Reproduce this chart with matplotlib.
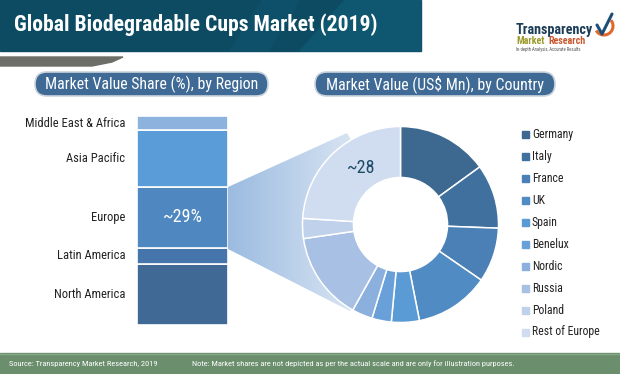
import numpy as np
import matplotlib
matplotlib.use("Agg")
import matplotlib.pyplot as plt
from matplotlib.patches import Rectangle, FancyBboxPatch, Polygon, Arc, Circle
from matplotlib import font_manager as fm

# ---------------- data ----------------
regions = ["North America", "Latin America", "Europe", "Asia Pacific", "Middle East & Africa"]
region_share = [29, 8, 29, 27, 7]
region_colors = ["#406a95", "#4575ab", "#4f88c1", "#5a9cd7", "#8db2de"]

countries = ["Germany", "Italy", "France", "UK", "Spain", "Benelux", "Nordic",
             "Russia", "Poland", "Rest of Europe"]
country_value = [15.0, 10.6, 9.0, 12.3, 4.6, 3.2, 3.4, 14.6, 3.3, 24.0]
country_colors = ["#3d6890", "#40709e", "#4a80b6", "#508bc4", "#5a9ad5", "#6aa0da",
                  "#8cb0de", "#a7c0e4", "#c0d1ec", "#d0dcef"]

title = "Global Biodegradable Cups Market (2019)"
left_header = "Market Value Share (%), by Region"
right_header = "Market Value (US$ Mn), by Country"
europe_label = "~29%"
rest_label = "~28"
source = "Source: Transparency Market Research, 2019"
note = "Note: Market shares are not depicted as per the actual scale and are only for illustration purposes."

# ---------------- fonts ----------------
avail = {f.name for f in fm.fontManager.ttflist}
def pick(*names):
    for n in names:
        if n in avail:
            return n
    return "DejaVu Sans"
NARROW = pick("Liberation Sans Narrow", "DejaVu Sans Condensed", "Roboto Condensed", "Liberation Sans")

W, H = 620, 374
fig = plt.figure(figsize=(W / 100, H / 100), dpi=100)
fig.patch.set_facecolor("white")

def px_axes(x0, y0, x1, y1):
    return fig.add_axes([x0 / W, 1 - y1 / H, (x1 - x0) / W, (y1 - y0) / H])

bg = fig.add_axes([0, 0, 1, 1])
bg.set_xlim(0, W)
bg.set_ylim(H, 0)
bg.axis("off")

# title banner
bg.add_patch(Rectangle((0, 0), 421, 51, color="#0d4b63", zorder=1))
bg.add_patch(Polygon([(300, 51), (345, 0), (421, 0), (421, 51)], closed=True,
                     color="#0f5670", zorder=1.1))
bg.add_patch(Polygon([(230, 51), (262, 0), (300, 0), (268, 51)], closed=True,
                     color="#0e5069", zorder=1.1))
bg.text(14, 25, title, color="white", fontsize=15.6, fontweight="bold",
        family=NARROW, va="center", ha="left", zorder=3)

# grey wedge under banner
bg.add_patch(Polygon([(0, 57), (123, 57), (112, 62), (92, 66), (0, 66)], closed=True,
                     color="#6e6e68", zorder=1))

# logo
bg.text(516, 30, "Transparency", color="#1b3d57", fontsize=10.2, fontweight="bold",
        family=NARROW, va="center", ha="left", zorder=3)
bg.text(516, 41, "Market", color="#9c9a2c", fontsize=7.2, fontweight="bold",
        family=NARROW, va="center", ha="left", zorder=3)
bg.text(548, 41, "Research", color="#c9562c", fontsize=7.2, fontweight="bold",
        family=NARROW, va="center", ha="left", zorder=3)
bg.text(516, 49, "In-depth Analysis, Accurate Results", color="#555555", fontsize=3.3,
        family=NARROW, va="center", ha="left", zorder=3)
bg.add_patch(Arc((604, 26), 18, 18, theta1=-40, theta2=150, color="#e2672b", lw=2.2, zorder=3))
bg.plot([597, 602, 612], [25, 34, 14], color="#1f4e79", lw=2.2, zorder=4,
        solid_capstyle="round")

# header pills
for (x0, x1, txt) in [(35, 268, left_header), (315, 555, right_header)]:
    bg.add_patch(FancyBboxPatch((x0, 72), x1 - x0, 24,
                                boxstyle="round,pad=0,rounding_size=12",
                                fc="#3e6a95", ec="#c9d3dd", lw=1.2, zorder=2))
    bg.text((x0 + x1) / 2, 84.5, txt, color="white", fontsize=11.4, family=NARROW,
            ha="center", va="center", zorder=3)

# funnel gradient
poly = Polygon([(228, 187), (347, 133), (401, 224), (350, 311), (228, 249)],
               closed=True, transform=bg.transData, fc="none", ec="none")
bg.add_patch(poly)
c0 = np.array([0x9b, 0xbb, 0xe0]) / 255
c1 = np.array([0xf0, 0xf4, 0xfa]) / 255
t = np.linspace(0, 1, 256)[None, :, None]
grad = c0 + (c1 - c0) * t
im = bg.imshow(grad, extent=(228, 401, 311, 133), aspect="auto", zorder=1.5,
               interpolation="bilinear")
im.set_clip_path(poly)
bg.set_xlim(0, W)
bg.set_ylim(H, 0)

# footer
bg.add_patch(Rectangle((0, 353), W, 21, color="#6b8f6d", zorder=1))
bg.plot([0, W], [353.5, 353.5], color="#86a688", lw=1, zorder=1.2)
bg.text(9, 364, source, color="white", fontsize=6.0, family=NARROW,
        ha="left", va="center", zorder=3)
bg.text(192, 364, note, color="white", fontsize=6.0, family=NARROW,
        ha="left", va="center", zorder=3)

# ---------------- stacked bar ----------------
axb = px_axes(137, 115.7, 228, 325)
bottom = 0
for name, val, col in zip(regions, region_share, region_colors):
    axb.bar(0, val, bottom=bottom, width=1.0, color=col, edgecolor="white", linewidth=1.2)
    axb.text(-0.63, bottom + val / 2, name, ha="right", va="center", fontsize=9.0,
             family=NARROW, color="#222222", clip_on=False)
    if name == "Europe":
        axb.text(0, bottom + val / 2, europe_label, ha="center", va="center",
                 fontsize=13, family=NARROW, color="white")
    bottom += val
axb.set_xlim(-0.5, 0.5)
axb.set_ylim(0, sum(region_share))
axb.axis("off")

# ---------------- donut ----------------
cx, cy, R = 400.5, 224.5, 98
axd = px_axes(cx - R, cy - R, cx + R, cy + R)
axd.add_patch(Circle((0, 0), 0.49, color="white", zorder=0))
wedges, _ = axd.pie(country_value, colors=country_colors, startangle=90, counterclock=False,
                    radius=1.0, wedgeprops=dict(width=0.52, edgecolor="white", linewidth=1.1))
axd.set_xlim(-1, 1)
axd.set_ylim(-1, 1)
axd.set_aspect("auto")
axd.axis("off")
axd.text(-0.40, 0.58, rest_label, ha="center", va="center", fontsize=13,
         family=NARROW, color="#1d4a66")

# legend
for i, (name, col) in enumerate(zip(countries, country_colors)):
    y = 134 + 22 * i
    bg.add_patch(Rectangle((522, y - 3.5), 7, 7, color=col, zorder=3))
    bg.text(532, y, name, ha="left", va="center", fontsize=8.5, family=NARROW,
            color="#222222", zorder=3)

fig.savefig("out.png", dpi=100)
